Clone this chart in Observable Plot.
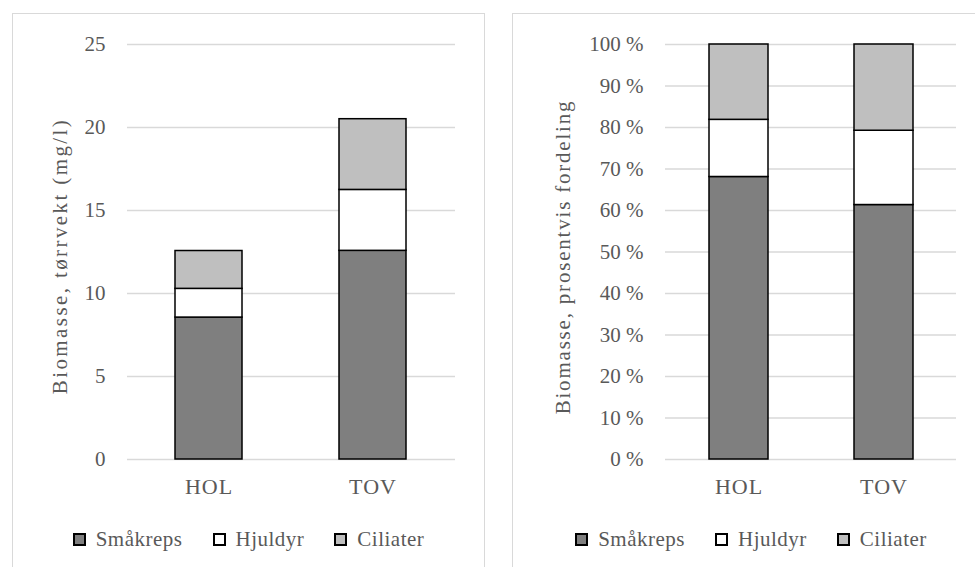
<!DOCTYPE html>
<html>
<head>
<meta charset="utf-8">
<script src="https://cdn.jsdelivr.net/npm/d3@7"></script>
<script src="https://cdn.jsdelivr.net/npm/@observablehq/plot@0.6"></script>
<style>
  html, body { margin: 0; padding: 0; background: #fff; }
  #wrap { position: relative; width: 975px; height: 567px; overflow: hidden; background: #fff; }
  .panel { position: absolute; box-sizing: border-box; border: 1px solid #d9d9d9; }
  .chart { position: absolute; top: 0; }
  .legend { position: absolute; display: flex; justify-content: center; align-items: center;
            height: 22px; font-family: "Liberation Serif", serif; font-size: 21px; color: #595959; letter-spacing: 0.5px; }
  .item { display: flex; align-items: center; margin: 0 15px; }
  .sw { box-sizing: border-box; width: 13px; height: 13px; border: 2px solid #000; margin-right: 10px; }
</style>
</head>
<body>
<div id="wrap">
  <div class="panel" style="left:12px;top:13px;width:473px;height:600px"></div>
  <div class="panel" style="left:512px;top:13px;width:478px;height:600px"></div>
  <div id="left" class="chart" style="left:0px"></div>
  <div id="right" class="chart" style="left:490px"></div>
  <div id="legL" class="legend" style="left:12px;width:473px;top:528px"></div>
  <div id="legR" class="legend" style="left:512px;width:478px;top:528px"></div>
</div>
<script>
// ---- data ----
const sites = ["HOL", "TOV"];
const groups = ["Småkreps", "Hjuldyr", "Ciliater"];
const colors = ["#7f7f7f", "#ffffff", "#bfbfbf"];
const smakreps = [8.55, 12.57];
const hjuldyr = [1.73, 3.67];
const ciliater = [2.28, 4.26];
const leftTicks = [0, 5, 10, 15, 20, 25];
const rightTicksPct = [0, 10, 20, 30, 40, 50, 60, 70, 80, 90, 100];
const leftTitle = "Biomasse, tørrvekt (mg/l)";
const rightTitle = "Biomasse, prosentvis fordeling";

const series = [smakreps, hjuldyr, ciliater];
const rows = sites.flatMap((s, i) => groups.map((g, j) => ({site: s, group: g, value: series[j][i]})));

const baseStyle = {fontFamily: "Liberation Serif, serif", fontSize: "21px", color: "#595959", background: "transparent", overflow: "visible"};

const left = Plot.plot({
  width: 490, height: 567,
  marginLeft: 127, marginRight: 35, marginTop: 44, marginBottom: 108,
  style: baseStyle,
  x: {domain: sites, paddingInner: 0.59, paddingOuter: 0.295, label: null, tickSize: 0, tickPadding: 19},
  y: {domain: [0, 25], ticks: leftTicks, label: null, tickSize: 0, tickPadding: 22},
  color: {domain: groups, range: colors},
  marks: [
    Plot.ruleY(leftTicks, {stroke: "#d9d9d9", strokeWidth: 1.5}),
    Plot.barY(rows, {x: "site", y: "value", fill: "group", stroke: "#000", strokeWidth: 1.5, order: groups}),
    Plot.text([leftTitle], {frameAnchor: "left", textAnchor: "middle", lineAnchor: "middle", rotate: -90, dx: -67, dy: 4, fill: "#595959", fontSize: 21})
  ]
});
document.getElementById("left").appendChild(left);

const right = Plot.plot({
  width: 485, height: 567,
  marginLeft: 175, marginRight: 19, marginTop: 44, marginBottom: 108,
  style: baseStyle,
  x: {domain: sites, paddingInner: 0.595, paddingOuter: 0.2975, label: null, tickSize: 0, tickPadding: 19},
  y: {domain: [0, 1], ticks: rightTicksPct.map(d => d / 100), tickFormat: d => `${Math.round(d * 100)} %`, label: null, tickSize: 0, tickPadding: 22},
  color: {domain: groups, range: colors},
  marks: [
    Plot.ruleY(rightTicksPct.map(d => d / 100), {stroke: "#d9d9d9", strokeWidth: 1.5}),
    Plot.barY(rows, {x: "site", y: "value", fill: "group", stroke: "#000", strokeWidth: 1.5, order: groups, offset: "normalize"}),
    Plot.text([rightTitle], {frameAnchor: "left", textAnchor: "middle", lineAnchor: "middle", rotate: -90, dx: -102, dy: 5, fill: "#595959", fontSize: 21})
  ]
});
document.getElementById("right").appendChild(right);

// typographic tweaks to approximate the wider Garamond face
for (const svg of [left, right]) {
  svg.querySelectorAll("text").forEach(t => {
    const s = t.textContent;
    if (s === leftTitle) t.setAttribute("letter-spacing", "2.4");
    else if (s === rightTitle) t.setAttribute("letter-spacing", "1.8");
    else if (sites.includes(s)) { t.setAttribute("letter-spacing", "1"); t.setAttribute("font-size", "22"); }
  });
}

// legends
for (const id of ["legL", "legR"]) {
  const el = document.getElementById(id);
  groups.forEach((g, i) => {
    const item = document.createElement("div");
    item.className = "item";
    const sw = document.createElement("div");
    sw.className = "sw";
    sw.style.background = colors[i];
    const tx = document.createElement("span");
    tx.textContent = g;
    item.appendChild(sw);
    item.appendChild(tx);
    el.appendChild(item);
  });
}
</script>
</body>
</html>
